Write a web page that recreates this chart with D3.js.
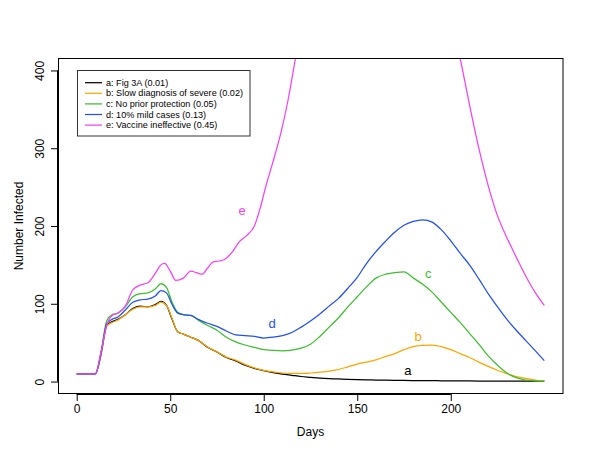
<!DOCTYPE html>
<html>
<head>
<meta charset="utf-8">
<script src="https://cdn.jsdelivr.net/npm/d3@7"></script>
<style>
  html, body { margin: 0; padding: 0; background: #fff; }
  svg { display: block; }
  text { font-family: "Liberation Sans", Arial, Helvetica, sans-serif; }
</style>
</head>
<body>
<div id="chart"></div>
<script>
// ---------------- data ----------------
const days = [0,5,10,13,16,19,22,26,30,34,38,42,45,48,51,54,57,61,65,
  70,75,80,85,90,95,100,105,110,115,120,125,130,135,140,145,150,155,160,165,170,
  175,180,185,190,195,200,205,210,215,220,225,230,235,240,245,250];

const seriesA = [10,10,10,35,72,77,80,86,94,97,96,99,103,98,80,64,61,57,53,
  44,38,31,26.5,21,17,14,11.5,9.5,8,6.5,5.5,4.5,3.8,3.3,2.8,2.4,2.1,1.9,1.7,1.5,
  1.4,1.3,1.2,1.1,1,0.9,0.8,0.8,0.7,0.7,0.6,0.6,0.5,0.5,0.5,0.5];

const seriesB = [10,10,10,34,71,76,79,86,93,96,96,98,102,98,81,64,61,57,53,
  44.5,38,31.5,27.5,22,17.5,14.5,12.5,11,10.5,10.5,11,12,13.5,15.5,19,22.5,25,28,32,36,
  41,45,46.5,47,45,41,36,31,25,19.5,14.5,10,6.5,4,2,1];

const seriesC = [10,10,10,38,78,86,88,96,109,113,114,119,126,121,102,89,86,85,79,
  72,66,57,51,47,44,41,40,39.5,40.5,43,48,58,70,82,96,109,122,133,138,140,
  141,133,125,115,102,89,76,62,48,33,21,11,5,2,1,0.5];

const seriesD = [10,10,10,36,74,80,83,92,102,105,106,110,117,114,99,88,86,85,80,
  75,71,65,60,59,58,56,57,59,63,70,78,87,97,107,120,134,152,167,180,192,
  201,206,208,205,195,181,165,150,132,113,96,80,66,53,40,27];

const eDays = [0,5,10,13,16,19,22,26,30,34,38,42,45,47,50,53,57,61,64,67,
  70,73,76,79,83,87,91,95,98,101,105,109,113,117,125,135,145,155,165,175,
  185,195,205,210,215,220,225,230,235,240,245,250];
const seriesE = [10,10,10,38,72,85,88,97,118,124,127,139,150,152,142,130,133,142,140,138,
  146,154,155,157,166,180,188,200,222,250,283,318,362,416,520,640,730,780,770,720,
  630,520,416,356,300,252,213,185,160,136,115,98];

const seriesNames = ["a: Fig 3A (0.01)", "b: Slow diagnosis of severe (0.02)",
  "c: No prior protection (0.05)", "d: 10% mild cases (0.13)", "e: Vaccine ineffective (0.45)"];
const seriesLetters = ["a", "b", "c", "d", "e"];
const seriesColors = ["#000000", "#FFA500", "#3DBE2F", "#2350F0", "#F542F5"];
// curve label anchor positions (day, value)
const labelDays = [177, 182.5, 188, 104.5, 88.5];
const labelVals = [14, 58, 139, 74.5, 220];

const xTicks = [0, 50, 100, 150, 200];
const yTicks = [0, 100, 200, 300, 400];

// ---------------- chart ----------------
const W = 600, H = 463;
const svg = d3.select("#chart").append("svg").attr("width", W).attr("height", H);

const x = d3.scaleLinear().domain([-10, 260]).range([58, 563]);
const y = d3.scaleLinear().domain([-16, 416]).range([394, 58]);

svg.append("clipPath").attr("id", "clip")
  .append("rect").attr("x", 58).attr("y", 58).attr("width", 505).attr("height", 336);

const line = d3.line().x(d => x(d[0])).y(d => y(d[1])).curve(d3.curveMonotoneX);

const allSeries = [
  days.map((d, i) => [d, seriesA[i]]),
  days.map((d, i) => [d, seriesB[i]]),
  days.map((d, i) => [d, seriesC[i]]),
  days.map((d, i) => [d, seriesD[i]]),
  eDays.map((d, i) => [d, seriesE[i]])
];

const g = svg.append("g").attr("clip-path", "url(#clip)");
allSeries.forEach((s, i) => {
  g.append("path").datum(s).attr("d", line)
    .attr("fill", "none").attr("stroke", seriesColors[i]).attr("stroke-width", 1.25);
});

// curve letters
seriesLetters.forEach((l, i) => {
  svg.append("text").attr("x", x(labelDays[i])).attr("y", y(labelVals[i]))
    .attr("text-anchor", "middle").attr("dominant-baseline", "central")
    .attr("font-size", 13).attr("fill", seriesColors[i]).text(l);
});

// axes
const xAxis = d3.axisBottom(x).tickValues(xTicks).tickSize(7).tickPadding(3).tickSizeOuter(0);
const gx = svg.append("g").attr("transform", "translate(0,394)").call(xAxis);
gx.select(".domain").attr("d", `M${x(0)},0.5H${x(200)}`).attr("stroke", "#000");
gx.selectAll("text").attr("font-size", 12).attr("fill", "#000")
  .attr("font-family", "'Liberation Sans', Arial, sans-serif");

const yAxis = d3.axisLeft(y).tickValues(yTicks).tickSize(7).tickSizeOuter(0);
const gy = svg.append("g").attr("transform", "translate(58,0)").call(yAxis);
gy.select(".domain").attr("d", `M-0.5,${y(0)}V${y(400)}`).attr("stroke", "#000");
gy.selectAll("text")
  .attr("font-size", 12).attr("fill", "#000")
  .attr("font-family", "'Liberation Sans', Arial, sans-serif")
  .attr("x", 0).attr("y", 0).attr("dy", null)
  .attr("dominant-baseline", "central")
  .attr("text-anchor", "middle")
  .attr("transform", "translate(-18,0) rotate(-90)");

// plot box
svg.append("rect").attr("x", 58.5).attr("y", 58.5).attr("width", 504.5).attr("height", 335)
  .attr("fill", "none").attr("stroke", "#000").attr("stroke-width", 1);

// axis titles
svg.append("text").attr("x", 310.5).attr("y", 432).attr("text-anchor", "middle")
  .attr("dominant-baseline", "central").attr("font-size", 12).text("Days");
svg.append("text").attr("transform", "translate(19,226) rotate(-90)")
  .attr("text-anchor", "middle").attr("dominant-baseline", "central")
  .attr("font-size", 12).text("Number Infected");

// legend
const lg = svg.append("g");
lg.append("rect").attr("x", 77.5).attr("y", 70.5).attr("width", 172.5).attr("height", 65.5)
  .attr("fill", "#fff").attr("stroke", "#333").attr("stroke-width", 1);
seriesNames.forEach((n, i) => {
  const yy = 82.7 + i * 10.6;
  lg.append("line").attr("x1", 85).attr("x2", 102).attr("y1", yy).attr("y2", yy)
    .attr("stroke", seriesColors[i]).attr("stroke-width", 1.25);
  lg.append("text").attr("x", 106).attr("y", yy).attr("dominant-baseline", "central")
    .attr("font-size", 9.1).attr("fill", "#000").text(n);
});
</script>
</body>
</html>
